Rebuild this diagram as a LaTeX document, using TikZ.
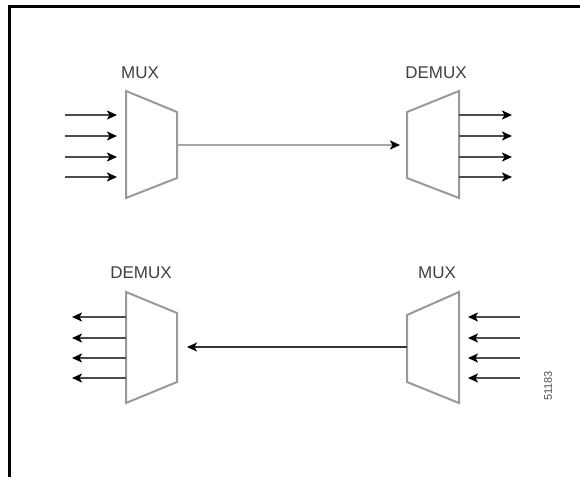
\documentclass[tikz,border=0pt]{standalone}
\usepackage{fontspec}
\setmainfont{Liberation Sans}
\usetikzlibrary{arrows.meta,positioning,calc}

\tikzset{
  muxbox/.style={draw=black!40, line width=2pt, line join=miter},
  sig/.style={draw=black!70, line width=1.6pt, -{Stealth[length=10pt,width=9pt,inset=2.5pt,black]}},
  trunk/.style={draw=black!35, line width=2.2pt, -{Stealth[length=10pt,width=9pt,inset=2.5pt,black]}},
  backtrunk/.style={draw=black!80, line width=1.2pt, -{Stealth[length=10pt,width=9pt,inset=2.5pt,black]}},
  lbl/.style={text=black!75, font=\fontsize{17}{20}\selectfont, inner sep=0pt},
}

\begin{document}
\begin{tikzpicture}[x=1pt,y=-1pt]
  \useasboundingbox (0,0) rectangle (580,477);

  % Frame (top and left edges only)
  \draw[line width=3pt] (9.7,477) -- (9.7,6.5) -- (580,6.5);

  % Upper MUX
  \draw[muxbox] (126,91) -- (177,112) -- (177,178) -- (126,198) -- cycle;
  \coordinate (muxAout) at (177,145);
  \node[lbl] (muxAlbl) at (140,73) {MUX};

  % Upper DEMUX
  \draw[muxbox] (459,91) -- (407,112) -- (407,178) -- (459,198) -- cycle;
  \coordinate (demuxAin) at (407,145);
  \node[lbl] (demuxAlbl) at (436,73) {DEMUX};

  % Lower DEMUX
  \draw[muxbox] (126,292) -- (177,313) -- (177,382) -- (126,403) -- cycle;
  \coordinate (demuxBin) at (177,347);
  \node[lbl] (demuxBlbl) at (141,273) {DEMUX};

  % Lower MUX
  \draw[muxbox] (459,292) -- (407,315) -- (407,382) -- (459,403) -- cycle;
  \coordinate (muxBout) at (407,347);
  \node[lbl] (muxBlbl) at (437,273) {MUX};

  % Channels and trunk lines
  \foreach \y [count=\i] in {115,136,157,177} {
    \coordinate (muxAsrc\i) at (65,\y);
    \coordinate (muxAin\i) at (126,\y);
    \coordinate (demuxAout\i) at (459,\y);
    \coordinate (demuxAdst\i) at (512,\y);
    \draw[sig, shorten >=9pt] (muxAsrc\i) -- (muxAin\i);
    \draw[sig] (demuxAout\i) -- (demuxAdst\i);
  }
  \foreach \y [count=\i] in {317,338,358,378} {
    \coordinate (muxBsrc\i) at (520,\y);
    \coordinate (muxBin\i) at (459,\y);
    \coordinate (demuxBout\i) at (126,\y);
    \coordinate (demuxBdst\i) at (72,\y);
    \draw[sig, shorten >=9pt] (muxBsrc\i) -- (muxBin\i);
    \draw[sig] (demuxBout\i) -- (demuxBdst\i);
  }
  \draw[trunk, shorten >=7pt] (muxAout) -- (demuxAin);
  \draw[backtrunk, shorten >=10pt] (muxBout) -- (demuxBin);

  % Figure number
  \node[rotate=90, text=black!70, font=\fontsize{11}{13}\selectfont, inner sep=0pt] (fignum) at (548,386) {51183};
\end{tikzpicture}
\end{document}
